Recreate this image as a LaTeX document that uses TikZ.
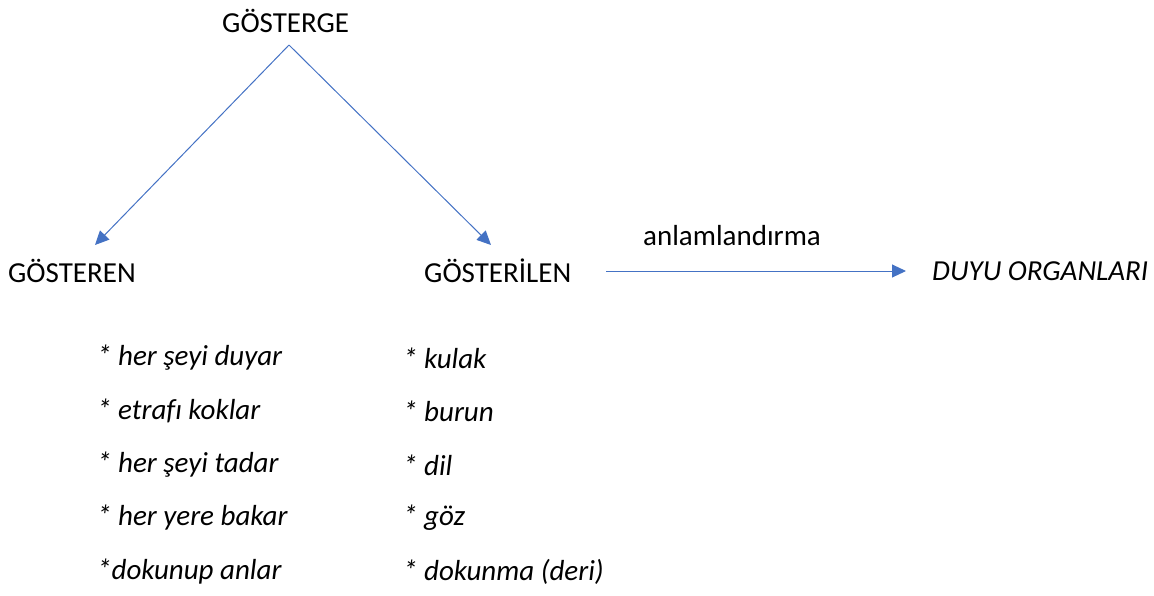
\documentclass[tikz,border=0pt]{standalone}
\usepackage{fontspec}
\setmainfont[Ligatures=NoCommon]{Carlito}
\usetikzlibrary{arrows.meta}
\definecolor{arrowblue}{HTML}{4472C4}
\tikzset{
  lbl/.style={inner sep=0pt, anchor=west, font=\fontsize{29}{34}\selectfont},
  itl/.style={lbl, font=\fontsize{29}{34}\selectfont\itshape},
  conn/.style={draw=arrowblue, line width=1pt, -{Triangle[length=14pt,width=13pt]}, arrowblue}
}
\begin{document}
\begin{tikzpicture}[x=1pt,y=-1pt]
\useasboundingbox (0,0) rectangle (1154,595);
\node[lbl] (gosterge) at (222,21) {GÖSTERGE};
\node[lbl] (gosteren) at (8,271) {GÖSTEREN};
\node[lbl] (gosterilen) at (424,271) {GÖSTERİLEN};
\node[itl] (duyu) at (932,271) {DUYU ORGANLARI};
\node[lbl] (anlam) at (643,236) {anlamlandırma};
\coordinate (top) at (289,45);
\coordinate (lend) at (95,245);
\coordinate (rend) at (491,245);
\coordinate (hstart) at (606,271);
\coordinate (hend) at (906,271);
\draw[conn] (top) -- (lend);
\draw[conn] (top) -- (rend);
\draw[conn] (hstart) -- (hend);
\node[itl] (l1) at (97,358) {* her şeyi duyar};
\node[itl] (l2) at (97,411) {* etrafı koklar};
\node[itl] (l3) at (97,465) {* her şeyi tadar};
\node[itl] (l4) at (97,518) {* her yere bakar};
\node[itl] (l5) at (97,572) {*dokunup anlar};
\node[itl] (r1) at (403,358) {* kulak};
\node[itl] (r2) at (403,411) {* burun};
\node[itl] (r3) at (403,465) {* dil};
\node[itl] (r4) at (403,518) {* göz};
\node[itl] (r5) at (403,572) {* dokunma (deri)};
\end{tikzpicture}
\end{document}
